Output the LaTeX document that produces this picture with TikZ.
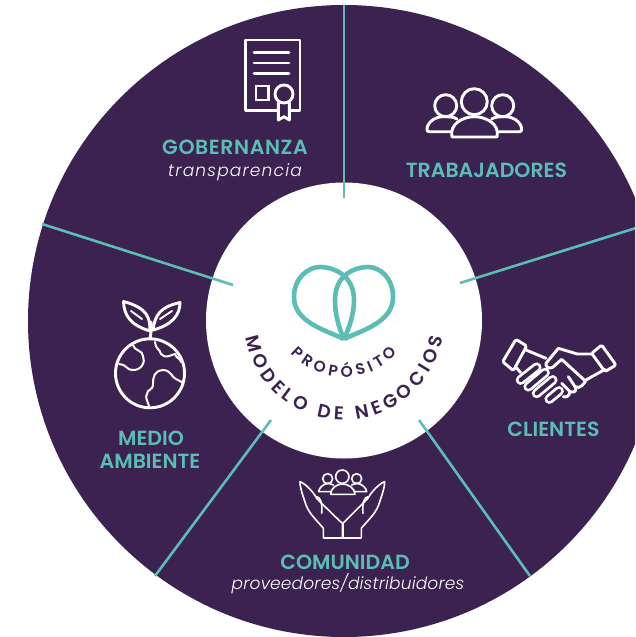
\documentclass[tikz,border=0pt]{standalone}
\usepackage{fontspec}
\setmainfont{Poppins}
\newfontfamily\headfam{Poppins SemiBold}
\newfontfamily\gobfam[LetterSpace=2.8]{Poppins SemiBold}
\newfontfamily\subfam[ItalicFont={Poppins Light Italic},LetterSpace=1]{Poppins Light}
\newfontfamily\subwidefam[ItalicFont={Poppins Light Italic},LetterSpace=7]{Poppins Light}
\newfontfamily\arcfam{Poppins SemiBold}
\usetikzlibrary{decorations.text}
\definecolor{plum}{HTML}{3B2251}
\definecolor{tealc}{HTML}{5BBDB5}
\newcommand{\hdfont}{\headfam\fontsize{20.5}{24}\selectfont}
\newcommand{\gbfont}{\gobfam\fontsize{20.5}{24}\selectfont}
\newcommand{\itfont}{\subfam\fontsize{17}{20}\selectfont\itshape}
\newcommand{\itwide}{\subwidefam\fontsize{17}{20}\selectfont\itshape}
\tikzset{
  head/.style={text=tealc,font=\hdfont,inner sep=0pt,align=center},
  sub/.style={text=white,font=\itfont,inner sep=0pt},
  spoke/.style={draw=tealc,line width=2.6pt},
  icon/.style={draw=white,line width=2.9pt,line join=round,line cap=round},
  thin icon/.style={draw=white,line width=1.6pt,line join=round,line cap=round},
  logo/.style={draw=tealc,line width=4.6pt,line join=round},
  finger out/.style={white,line width=9.8pt,line cap=round},
  finger in/.style={plum,line width=4.2pt,line cap=round},
}
\begin{document}
\begin{tikzpicture}[x=1pt,y=-1pt]
\useasboundingbox (0,0) rectangle (635,637);
\clip (0,0) rectangle (635,637);
\fill[white] (0,0) rectangle (635,637);
\node[circle,fill=plum,minimum size=632pt,inner sep=0pt] (disc) at (344,321) {};
% spokes
\coordinate (a1) at (344,5);   \coordinate (a2) at (344,198);
\coordinate (b1) at (636,228); \coordinate (b2) at (460,283);
\coordinate (c1) at (42,224);  \coordinate (c2) at (233,285);
\coordinate (d1) at (155,576); \coordinate (d2) at (271,420);
\coordinate (e1) at (530,576); \coordinate (e2) at (419,420);
\node[circle,fill=white,minimum size=276pt,inner sep=0pt] (hub) at (344,320.5) {};
\draw[spoke] (a1)--(a2);
\draw[spoke] (b1)--(b2);
\draw[spoke] (c1)--(c2);
\draw[spoke] (d1)--(d2);
\draw[spoke] (e1)--(e2);
% logo
\draw[logo] (344,339) .. controls (325,330) and (294,322) .. (294,297)
  .. controls (294,278) and (308,267) .. (320,267)
  .. controls (332,267) and (354,274) .. (354,300)
  .. controls (354,315) and (349,328) .. (344,339);
\draw[logo] (344,339) .. controls (363,330) and (393,322) .. (393,297)
  .. controls (393,278) and (380,267) .. (368,267)
  .. controls (356,267) and (335,274) .. (335,300)
  .. controls (335,315) and (339,328) .. (344,339);
% arc texts
\path[decorate,decoration={text along path,text align={fit to path},
  text={|\arcfam\fontsize{18.5}{19}\selectfont\color{plum}|MODELO DE NEGOCIOS}}]
  (245.52,337.36) .. controls (253.95,385.15) and (295.47,420) .. (344,420)
  .. controls (392.53,420) and (434.05,385.15) .. (442.48,337.36);
\path[decorate,decoration={text along path,text align={fit to path},
  text={|\arcfam\fontsize{15.5}{16}\selectfont\color{plum}|PROPÓSITO}}]
  (290.5,353.18) .. controls (304.15,368.34) and (323.6,377) .. (344,377)
  .. controls (364.4,377) and (383.85,368.34) .. (397.5,353.18);
% labels
\node[head,font=\gbfont] (gob) at (235,147) {GOBERNANZA};
\node[sub,font=\itwide] (tra) at (235,172) {transparencia};
\node[head] (trab) at (486.5,170) {TRABAJADORES};
\node[head] (cli) at (553.5,429) {CLIENTES};
\node[head] (med) at (151,438) {MEDIO};
\node[head] (amb) at (150,461) {AMBIENTE};
\node[head] (com) at (345,562) {COMUNIDAD};
\node[sub] (prov) at (348,584) {proveedores/distribuidores};
% certificate
\draw[icon] (278.3,110.7) -- (245.7,110.7) -- (245.7,40) -- (300,40) -- (300,110.7) -- (289.3,110.7);
\draw[icon] (254,52.3)--(289,52.3) (254,63)--(289,63) (254,73.7)--(289,73.7);
\draw[icon,line join=miter] (256,86) rectangle (268.3,100);
\draw[icon] (284,94) circle (9);
\draw[icon] (278.3,103) -- (278.3,120) -- (284,116.7) -- (289.3,120) -- (289.3,103);
% people
\draw[icon] (474.3,101.7) circle (13);
\draw[icon] (445.7,105.7) circle (11);
\draw[icon] (502.7,105.7) circle (11);
\draw[icon] (452,137) .. controls (449,124) and (463,116.7) .. (474.3,116.7)
  .. controls (486,116.7) and (500,124) .. (497,137) -- cycle;
\draw[icon] (451,131.7) -- (429,131.7) .. controls (424,131.7) and (428,117) .. (443,116.7)
  .. controls (450,116.7) and (454,117) .. (457,119);
\draw[icon] (497.6,131.7) -- (519.6,131.7) .. controls (524.6,131.7) and (520.6,117) .. (505.6,116.7)
  .. controls (498.6,116.7) and (494.6,117) .. (491.6,119);
% globe
\draw[icon] (150,373.3) circle (34.5);
\draw[icon] (150,339) .. controls (151,332) and (152,328) .. (151,322);
\draw[icon] (150,331) .. controls (150,318) and (148,308) .. (123.5,301.5)
  .. controls (124,315) and (130,325) .. (150,331);
\draw[icon] (153,330) .. controls (155,315) and (160,307) .. (180,302.5)
  .. controls (180,315) and (172,325) .. (153,330);
\draw[thin icon,line width=1.9pt] (131,311) -- (142,319) (172,311) -- (160,319);
\draw[thin icon,line width=2pt] (133,345) .. controls (134,351) and (143,350) .. (143,356)
  .. controls (146,362) and (141,371) .. (132,370) .. controls (127,370) and (126,364) .. (119,364);
\draw[thin icon,line width=2pt] (155,342) .. controls (156,350) and (160,349) .. (161,354)
  .. controls (165,359) and (171,355) .. (175,354) .. controls (176,358) and (181,359) .. (181,362);
\draw[thin icon,line width=2pt] (149,406) .. controls (147,400) and (145,397) .. (147,394)
  .. controls (147,389) and (153,391) .. (153,384) .. controls (153,377) and (154,371) .. (163,370)
  .. controls (171,370) and (172,378) .. (176,379) .. controls (179,380) and (181,382) .. (183,383);
% handshake
\begin{scope}[shift={(490,330)},x=.3333pt,y=-.3333pt]
\draw[icon,rounded corners=1.5pt] (78,28) -- (110,48) -- (70,122) -- (38,95) -- cycle;
\draw[icon,rounded corners=1.5pt] (335,45) -- (378,105) -- (345,125) -- (305,70) -- cycle;
\draw[icon] (108,60) -- (168,85);
\draw[icon] (78,112) -- (92,128);
\draw[icon] (305,72) -- (262,72) -- (205,55) -- (168,100) .. controls (165,110) and (178,118) .. (188,112) -- (215,88) -- (285,152);
\draw[icon] (345,118) -- (288,150) .. controls (285,158) and (270,180) .. (255,170);
\draw[icon] (235,140) -- (255,170) .. controls (262,180) and (255,190) .. (240,185) -- (215,160);
\draw[icon] (240,185) .. controls (238,198) and (230,203) .. (220,200);
\draw[finger out] (92,150) -- (140,112); \draw[finger in] (92,150) -- (140,112);
\draw[finger out] (115,170) -- (165,128); \draw[finger in] (115,170) -- (165,128);
\draw[finger out] (140,190) -- (188,150); \draw[finger in] (140,190) -- (188,150);
\draw[finger out] (178,207) -- (207,183); \draw[finger in] (178,207) -- (207,183);
\end{scope}
% hands with people
\begin{scope}[shift={(220,460)},x=.3333pt,y=-.3333pt]
\draw[thin icon] (367,50) circle (20);
\draw[thin icon] (323,56) circle (15);
\draw[thin icon] (410,56) circle (15);
\draw[thin icon] (332,103) .. controls (332,85) and (350,72) .. (367,72) .. controls (385,72) and (405,85) .. (405,103) -- cycle;
\draw[thin icon] (332,95) -- (296,95) .. controls (296,85) and (310,70) .. (325,70) -- (340,75);
\draw[thin icon] (405,95) -- (440,95) .. controls (440,85) and (425,70) .. (410,70) -- (395,75);
\draw[thin icon] (365,234) -- (310,234) -- (310,205) .. controls (290,180) and (270,165) .. (258,135) .. controls (250,110) and (240,85) .. (240,65)
  .. controls (255,70) and (280,95) .. (290,115) .. controls (310,135) and (340,165) .. (367,190) -- (367,234);
\draw[thin icon] (290,110) .. controls (300,112) and (308,125) .. (305,160);
\draw[thin icon] (369,234) -- (424,234) -- (424,205) .. controls (444,180) and (464,165) .. (476,135) .. controls (484,110) and (494,85) .. (494,65)
  .. controls (479,70) and (454,95) .. (444,115) .. controls (424,135) and (394,165) .. (369,190) -- (369,234);
\draw[thin icon] (444,110) .. controls (434,112) and (426,125) .. (429,160);
\end{scope}
\end{tikzpicture}
\end{document}
